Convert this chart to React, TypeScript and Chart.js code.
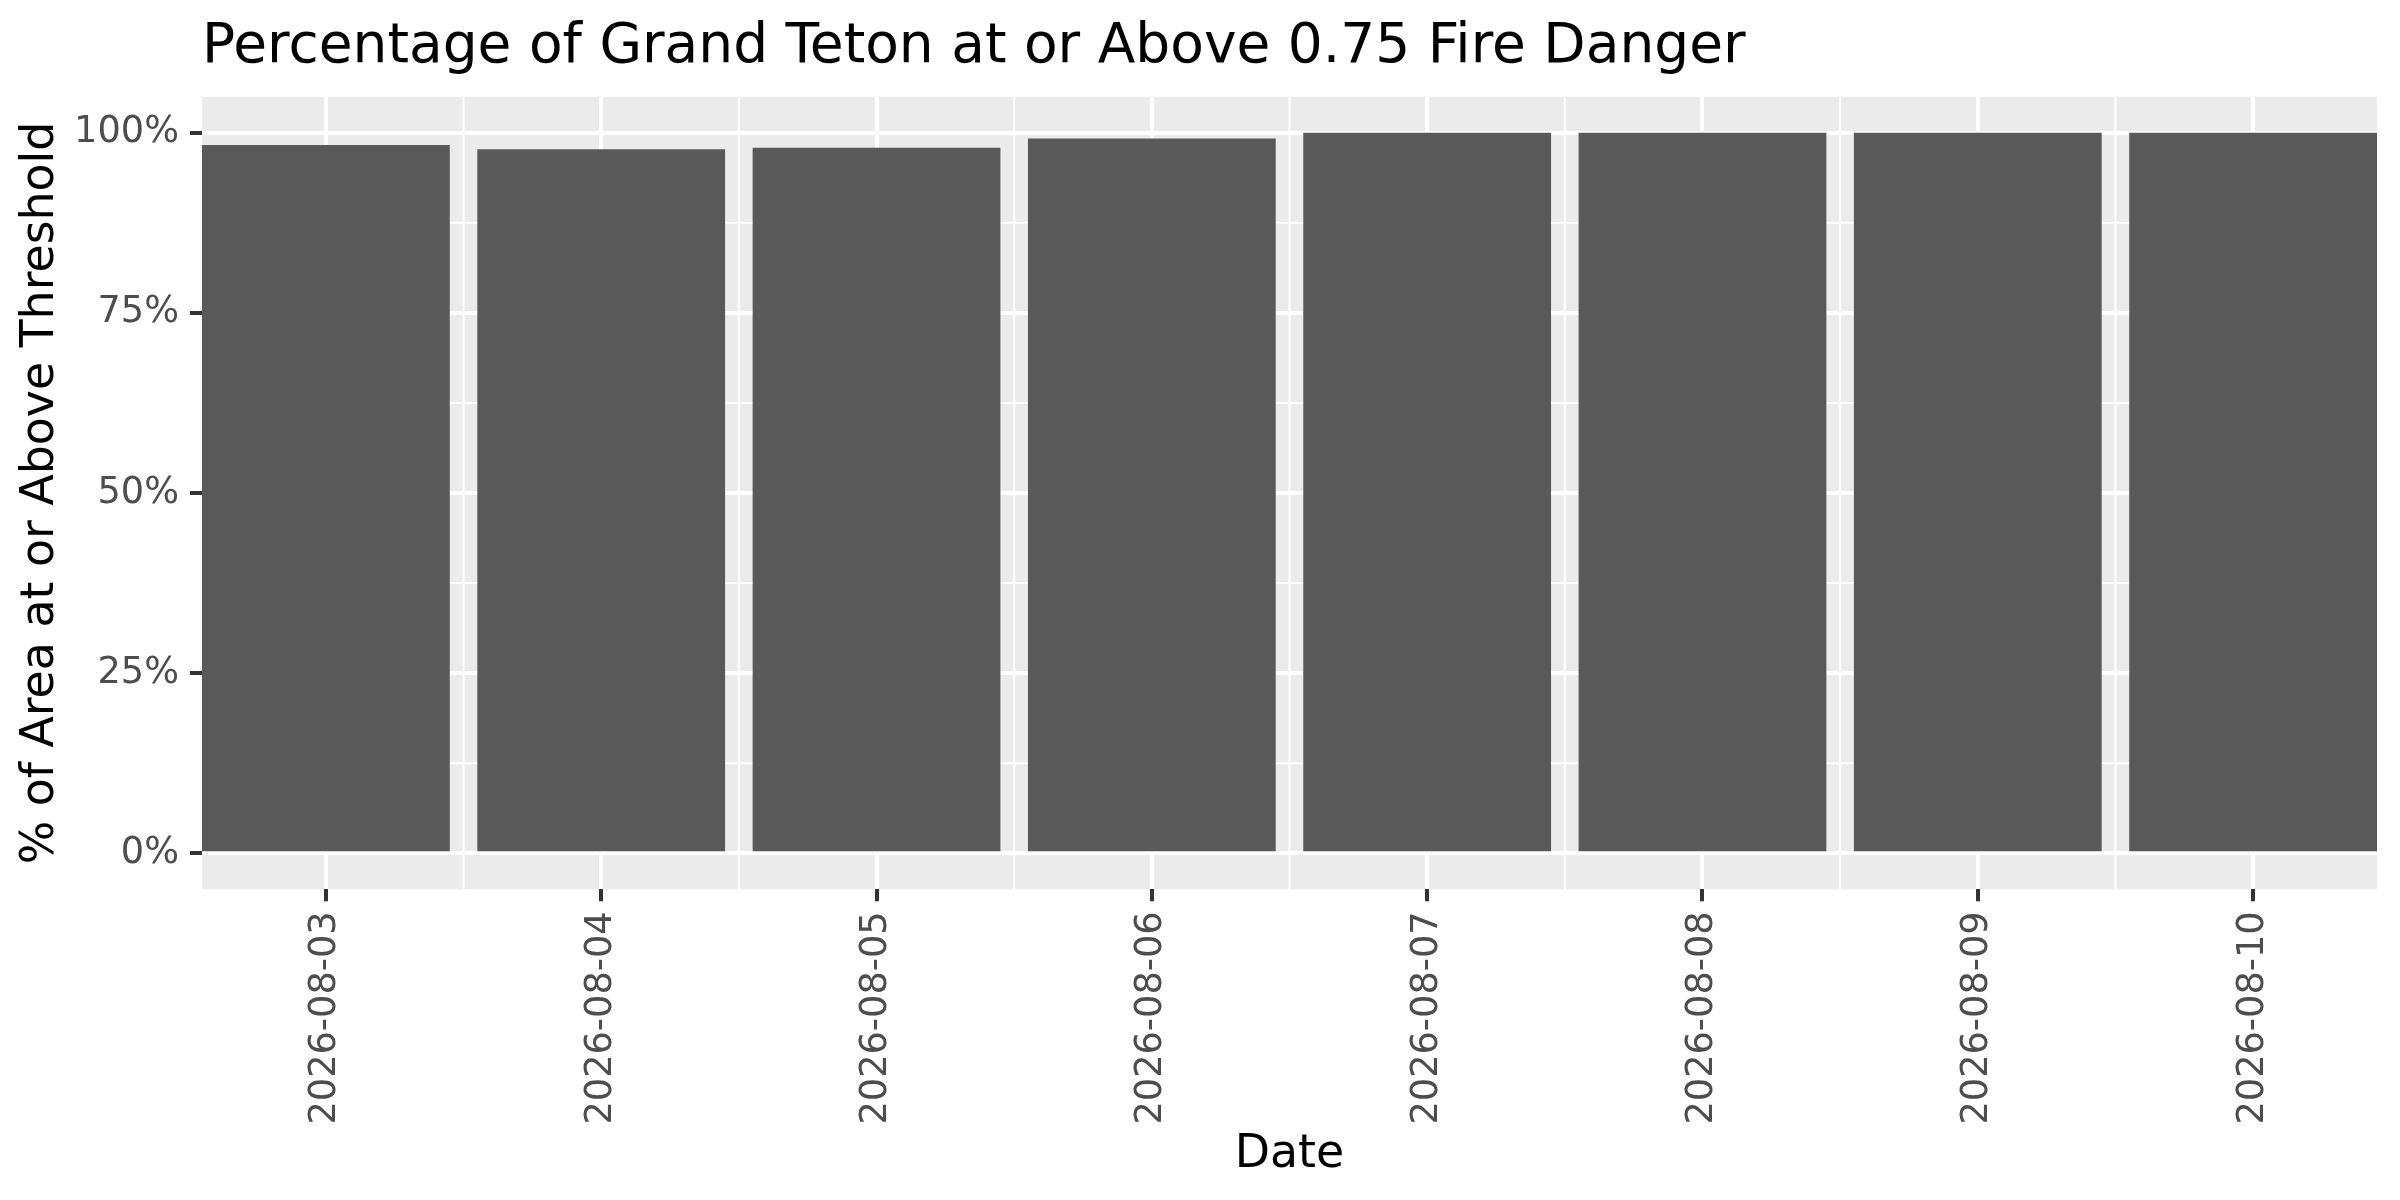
import React, { useEffect, useRef } from "react";
import { Chart, registerables } from "chart.js";

Chart.register(...registerables);

const titleText = "Percentage of Grand Teton at or Above 0.75 Fire Danger";
const xAxisTitle = "Date";
const yAxisTitle = "% of Area at or Above Threshold";

const dates = [
  "2026-08-03",
  "2026-08-04",
  "2026-08-05",
  "2026-08-06",
  "2026-08-07",
  "2026-08-08",
  "2026-08-09",
  "2026-08-10",
];
const dayIndex = [1, 2, 3, 4, 5, 6, 7, 8];
const percentAbove = [98.3, 97.7, 97.9, 99.2, 100, 100, 100, 100];

const yTickValues = [0, 25, 50, 75, 100];
const yMinorValues = [12.5, 37.5, 62.5, 87.5];
const xMinorValues = [1.5, 2.5, 3.5, 4.5, 5.5, 6.5, 7.5];

const FONT = "DejaVu Sans";

const panelPlugin = {
  id: "ggPanel",
  beforeDraw(chart: any) {
    const { ctx, chartArea, scales } = chart;
    const { left, right, top, bottom } = chartArea;
    ctx.save();
    ctx.fillStyle = "#EBEBEB";
    ctx.fillRect(left, top, right - left, bottom - top);
    ctx.strokeStyle = "#FFFFFF";
    ctx.lineWidth = 2;
    ctx.beginPath();
    for (const v of yMinorValues) {
      const y = scales.y.getPixelForValue(v);
      ctx.moveTo(left, y);
      ctx.lineTo(right, y);
    }
    for (const v of xMinorValues) {
      const x = scales.x.getPixelForValue(v);
      ctx.moveTo(x, top);
      ctx.lineTo(x, bottom);
    }
    ctx.stroke();
    ctx.restore();
  },
  afterDraw(chart: any) {
    const { ctx, chartArea } = chart;
    ctx.save();
    ctx.fillStyle = "#000000";
    ctx.font = `55px "${FONT}"`;
    ctx.textAlign = "left";
    ctx.textBaseline = "alphabetic";
    ctx.fillText(titleText, chartArea.left, 62);
    ctx.restore();
  },
};

export default function App() {
  const canvasRef = useRef<HTMLCanvasElement | null>(null);

  useEffect(() => {
    document.body.style.margin = "0";
    const canvas = canvasRef.current;
    if (!canvas) return;
    const chart = new Chart(canvas, {
      type: "bar",
      data: {
        datasets: [
          {
            data: dayIndex.map((d, i) => ({ x: d, y: percentAbove[i] })),
            backgroundColor: "#595959",
            borderWidth: 0,
            categoryPercentage: 0.9,
            barPercentage: 1.0,
          },
        ],
      },
      options: {
        animation: false,
        responsive: false,
        devicePixelRatio: 1,
        layout: { padding: { top: 96.7, right: 23, left: 0, bottom: 0 } },
        plugins: {
          legend: { display: false },
          tooltip: { enabled: false },
          title: { display: false },
        },
        scales: {
          x: {
            type: "linear",
            min: 0.55,
            max: 8.45,
            offset: false,
            afterBuildTicks: (scale: any) => {
              scale.ticks = dayIndex.map((v) => ({ value: v }));
            },
            afterFit: (scale: any) => {
              scale.height = 1200 - 889.3;
            },
            ticks: {
              autoSkip: false,
              minRotation: 90,
              maxRotation: 90,
              padding: 10,
              color: "#4D4D4D",
              font: { family: FONT, size: 36.7 },
              callback: (value: any) => dates[Number(value) - 1] ?? "",
            },
            grid: {
              offset: false,
              color: "#FFFFFF",
              lineWidth: 4,
              drawTicks: true,
              tickLength: 12,
              tickColor: "#333333",
              tickWidth: 4,
            },
            border: { display: false },
            title: {
              display: true,
              text: xAxisTitle,
              color: "#000000",
              font: { family: FONT, size: 45.8 },
              padding: { top: 0, bottom: 17 },
            },
          },
          y: {
            type: "linear",
            min: -5,
            max: 105,
            beginAtZero: false,
            afterBuildTicks: (scale: any) => {
              scale.ticks = yTickValues.map((v) => ({ value: v }));
            },
            afterFit: (scale: any) => {
              scale.width = 202;
            },
            ticks: {
              padding: 11,
              color: "#4D4D4D",
              font: { family: FONT, size: 36.7 },
              callback: (value: any) => `${value}%`,
            },
            grid: {
              color: "#FFFFFF",
              lineWidth: 4,
              drawTicks: true,
              tickLength: 12,
              tickColor: "#333333",
              tickWidth: 4,
            },
            border: { display: false },
            title: {
              display: true,
              text: yAxisTitle,
              color: "#000000",
              font: { family: FONT, size: 45.8 },
              padding: { top: 13.5, bottom: 0 },
            },
          },
        },
      },
      plugins: [panelPlugin],
    } as any);
    return () => chart.destroy();
  }, []);

  return (
    <div style={{ width: 2400, height: 1200, background: "#FFFFFF" }}>
      <canvas
        ref={canvasRef}
        width={2400}
        height={1200}
        style={{ display: "block", width: 2400, height: 1200 }}
      />
    </div>
  );
}
